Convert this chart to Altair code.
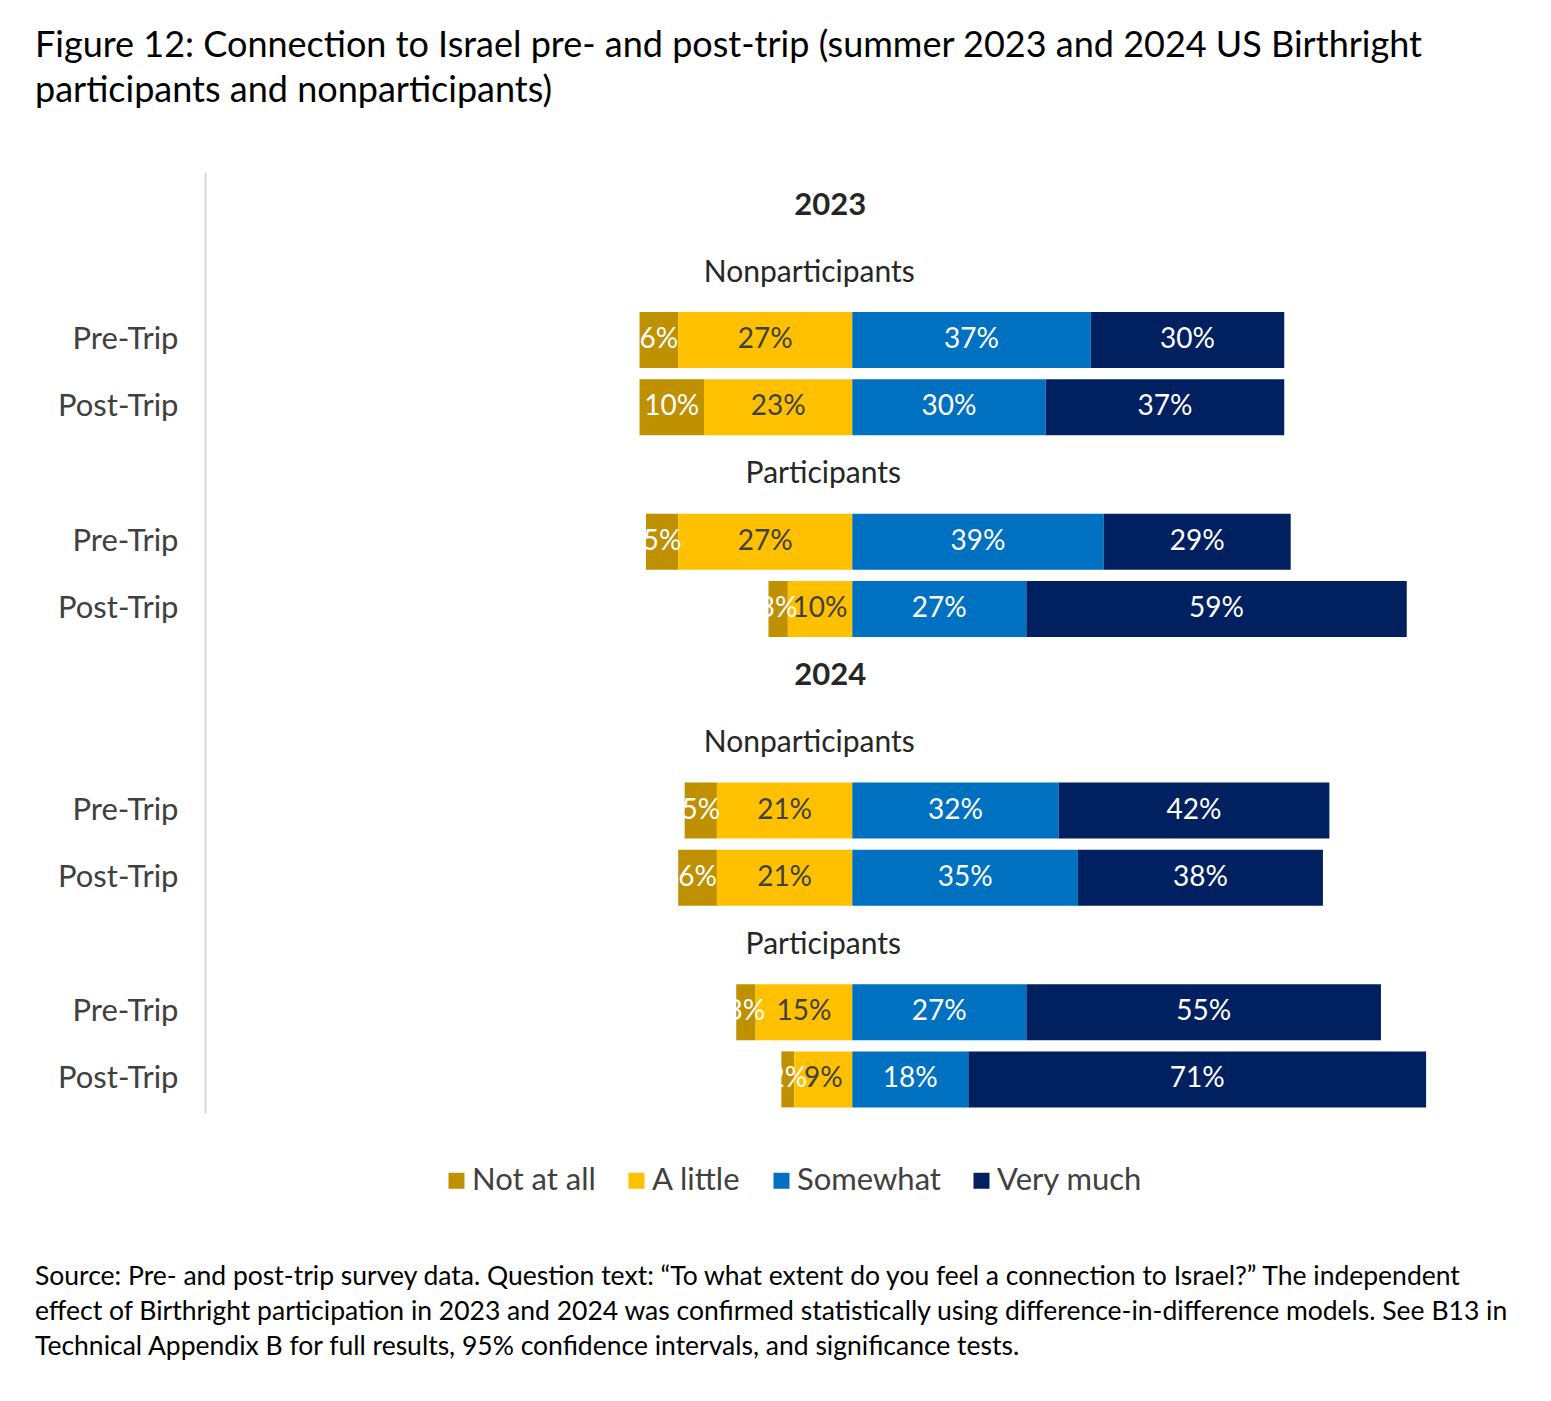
import altair as alt
import pandas as pd

FONT = "Lato"

years = ["2023", "2024"]
groups = ["Nonparticipants", "Participants"]
phases = ["Pre-Trip", "Post-Trip"]
categories = ["Not at all", "A little", "Somewhat", "Very much"]
colors = ["#BF9000", "#FFC000", "#0070C0", "#002060"]
label_colors = ["#FFFFFF", "#404040", "#FFFFFF", "#FFFFFF"]

# order: 2023 Nonpart Pre, Post; 2023 Part Pre, Post; 2024 Nonpart Pre, Post; 2024 Part Pre, Post
not_at_all = [6, 10, 5, 3, 5, 6, 3, 2]
a_little = [27, 23, 27, 10, 21, 21, 15, 9]
somewhat = [37, 30, 39, 27, 32, 35, 27, 18]
very_much = [30, 37, 29, 59, 42, 38, 55, 71]

title_lines = [
    "Figure 12: Connection to Israel pre- and post-trip (summer 2023 and 2024 US Birthright",
    "participants and nonparticipants)",
]
foot_lines = [
    "Source: Pre- and post-trip survey data. Question text: \u201cTo what extent do you feel a connection to Israel?\u201d The independent",
    "effect of Birthright participation in 2023 and 2024 was confirmed statistically using difference-in-difference models. See B13 in",
    "Technical Appendix B for full results, 95% confidence intervals, and significance tests.",
]

rows, headers, bar_rows = [], [], []
for y in years:
    rows.append(f"h|{y}")
    headers.append({"row": f"h|{y}", "text": y, "kind": "year", "x": 0})
    for g in groups:
        rows.append(f"g|{y} {g}")
        headers.append({"row": f"g|{y} {g}", "text": g, "kind": g, "x": 0})
        for p in phases:
            key = f"{p}|{y} {g}"
            rows.append(key)
            bar_rows.append(key)

segs = []
for i, key in enumerate(bar_rows):
    n, a, s, v = not_at_all[i], a_little[i], somewhat[i], very_much[i]
    spans = [(-(a + n), -a, n), (-a, 0, a), (0, s, s), (s, s + v, v)]
    for c, (x0, x1, val) in enumerate(spans):
        segs.append({
            "row": key, "cat": categories[c], "x0": x0, "x1": x1,
            "mid": (x0 + x1) / 2, "label": f"{val}%", "tcolor": label_colors[c],
        })
seg_df = pd.DataFrame(segs)
head_df = pd.DataFrame(headers)

y_enc = alt.Y(
    "row:N",
    scale=alt.Scale(domain=rows, paddingInner=0.167, paddingOuter=0.0835),
    axis=alt.Axis(
        title=None, ticks=False, grid=False,
        domainColor="#D9D9D9", domainWidth=2,
        labelExpr="indexof(datum.value, 'Trip') >= 0 ? split(datum.value, '|')[0] : ''",
        labelFont=FONT, labelFontSize=31, labelColor="#404040",
        labelPadding=27, minExtent=170, maxExtent=170,
    ),
)
x_scale = alt.Scale(domain=[-100.4, 100], nice=False, zero=False)

base = alt.Chart(seg_df)
bars = base.mark_bar(size=56).encode(
    y=y_enc,
    x=alt.X("x0:Q", scale=x_scale, axis=None),
    x2="x1:Q",
    color=alt.Color(
        "cat:N",
        scale=alt.Scale(domain=categories, range=colors),
        legend=alt.Legend(
            title=None, orient="none", direction="horizontal",
            legendX=236, legendY=993,
            symbolType="square", symbolSize=256, symbolStrokeWidth=0,
            labelFont=FONT, labelFontSize=31, labelColor="#404040",
            labelOffset=0, columnPadding=25,
        ),
    ),
)
bar_labels = base.mark_text(font=FONT, fontSize=28, baseline="middle", align="center").encode(
    y=alt.Y("row:N", scale=alt.Scale(domain=rows)),
    x=alt.X("mid:Q", scale=x_scale),
    text="label:N",
    color=alt.Color("tcolor:N", scale=None, legend=None),
)

hbase = alt.Chart(head_df)
year_text = hbase.transform_filter("datum.kind == 'year'").mark_text(
    font=FONT, fontSize=31, fontWeight="bold", color="#262626", dx=-22, baseline="middle"
).encode(y=alt.Y("row:N", scale=alt.Scale(domain=rows)), x=alt.X("x:Q", scale=x_scale), text="text:N")
nonpart_text = hbase.transform_filter("datum.kind == 'Nonparticipants'").mark_text(
    font=FONT, fontSize=30, color="#262626", dx=-43, baseline="middle"
).encode(y=alt.Y("row:N", scale=alt.Scale(domain=rows)), x=alt.X("x:Q", scale=x_scale), text="text:N")
part_text = hbase.transform_filter("datum.kind == 'Participants'").mark_text(
    font=FONT, fontSize=30, color="#262626", dx=-29, baseline="middle"
).encode(y=alt.Y("row:N", scale=alt.Scale(domain=rows)), x=alt.X("x:Q", scale=x_scale), text="text:N")

main = alt.layer(bars, bar_labels, year_text, nonpart_text, part_text).properties(width=1292, height=941)

foot_df = pd.DataFrame({"i": list(range(len(foot_lines))), "t": foot_lines})
foot = alt.Chart(foot_df).mark_text(
    align="left", baseline="middle", font=FONT, fontSize=26.5, color="#000000"
).encode(
    y=alt.Y("i:O", axis=None, scale=alt.Scale(paddingInner=0, paddingOuter=0)),
    x=alt.value(-170),
    text="t:N",
).properties(width=1290, height=104)

chart = alt.vconcat(main, foot, spacing=64).resolve_scale(color="independent").properties(
    title=alt.TitleParams(
        text=title_lines, anchor="start", font=FONT, fontSize=36, fontWeight="normal",
        color="#000000", lineHeight=45, offset=62,
    ),
    padding={"left": 27, "top": 20, "right": 8, "bottom": 10},
    background="white",
).configure_view(stroke=None)

chart.save("out.html", embed_options={"renderer": "svg", "actions": False})
